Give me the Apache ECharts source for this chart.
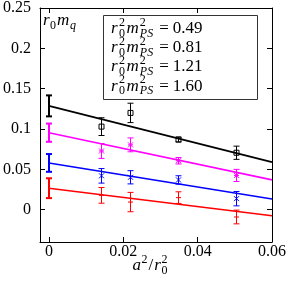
<!DOCTYPE html>
<html><head><meta charset="utf-8">
<script src="https://cdn.jsdelivr.net/npm/echarts@6/dist/echarts.min.js"></script>
<style>html,body{margin:0;padding:0;background:#fff}#c{width:289px;height:286px}</style>
</head><body>
<div id="c"></div>
<script>
// ---- data ----
const aSq = [0.0141, 0.0219, 0.0347, 0.0504];
const mpsLabels = ['0.49', '0.81', '1.21', '1.60'];
const mqRed = [0.0178, 0.0095, 0.0150, -0.0090];
const errRed = [0.0097, 0.0120, 0.0072, 0.0085];
const mqBlue = [0.0420, 0.0402, 0.0369, 0.0137];
const errBlue = [0.0090, 0.0082, 0.0052, 0.0089];
const mqMagenta = [0.0728, 0.0804, 0.0607, 0.0425];
const errMagenta = [0.0092, 0.0086, 0.0040, 0.0075];
const mqBlack = [0.1030, 0.1200, 0.0870, 0.0706];
const errBlack = [0.0110, 0.0120, 0.0030, 0.0082];
const extrap = [0.0267, 0.0580, 0.0955, 0.1287];
const extrapErr = [0.0123, 0.0110, 0.0113, 0.0130];
const fitRange = [0, 0.06];
const fitEnd = [-0.0074, 0.0132, 0.0370, 0.0590];
const xTicks = [0, 0.02, 0.04, 0.06];
const yTicks = [0, 0.05, 0.1, 0.15, 0.2, 0.25];
const xLabels = ['0', '0.02', '0.04', '0.06'];
const yLabels = ['0', '0.05', '0.1', '0.15', '0.2', '0.25'];

const colors = ['#ff0000', '#0000ff', '#ff00ff', '#000000'];
const markers = ['plus', 'cross', 'star', 'square'];
const mqSets = [mqRed, mqBlue, mqMagenta, mqBlack];
const errSets = [errRed, errBlue, errMagenta, errBlack];

const SERIF = 'serif';

function markerShapes(kind, cx, cy, color, r) {
  const st = {stroke: color, lineWidth: 1, fill: 'none'};
  const L = (x1, y1, x2, y2) => ({type: 'line', shape: {x1, y1, x2, y2}, style: st});
  if (kind === 'plus') return [L(cx - r, cy, cx + r, cy), L(cx, cy - r, cx, cy + r)];
  if (kind === 'cross') return [L(cx - r, cy - r, cx + r, cy + r), L(cx - r, cy + r, cx + r, cy - r)];
  if (kind === 'star') return [L(cx - r, cy, cx + r, cy), L(cx, cy - r, cx, cy + r),
    L(cx - r, cy - r, cx + r, cy + r), L(cx - r, cy + r, cx + r, cy - r)];
  return [{type: 'rect', shape: {x: cx - r, y: cy - r, width: 2 * r, height: 2 * r}, style: st}];
}

function errRenderer(color, marker, thick, opacity) {
  return function (params, api) {
    const x = api.value(0), y = api.value(1), e = api.value(2);
    const p = api.coord([x, y]);
    const pt = api.coord([x, y + e]);
    const pb = api.coord([x, y - e]);
    const cw = 3;
    const st = {stroke: color, lineWidth: thick ? 2 : 1};
    const X = Math.round(p[0]) + (thick ? 0 : 0.5);
    const children = [
      {type: 'line', shape: {x1: X, y1: pt[1], x2: X, y2: pb[1]}, style: st},
      {type: 'line', shape: {x1: X - cw, y1: pt[1], x2: X + cw, y2: pt[1]}, style: st},
      {type: 'line', shape: {x1: X - cw, y1: pb[1], x2: X + cw, y2: pb[1]}, style: st}
    ];
    if (marker) children.push(...markerShapes(marker, X, p[1], color, 2.5));
    return {type: 'group', children, style: {opacity}};
  };
}

// ---- math text helpers (Times-metric advance widths, em units) ----
const ADV = {'0': .5, '1': .5, '2': .5, '4': .5, '6': .5, '8': .5, '9': .5, '.': .25, '=': .564, '/': .278, ' ': .25,
  'r': .389, 'm': .722, 'P': .611, 'S': .5, 'a': .5, 'q': .5};
function tw(t, size) { let w = 0; for (const c of t) w += (ADV[c] || .5); return w * size; }
function mathText(parts, x, y, align, big, small) {
  const widths = parts.map(p => p.gap !== undefined ? p.gap : (p.t !== undefined ? tw(p.t, big)
    : Math.max(p.sup ? tw(p.sup, small) : 0, p.sub ? tw(p.sub, small) : 0)));
  const total = widths.reduce((a, b) => a + b, 0);
  let cx = align === 'right' ? x - total : (align === 'center' ? x - total / 2 : x);
  const els = [];
  const mk = (text, px, py, size, it) => ({type: 'text', x: px, y: py, style: {text,
    fontFamily: SERIF, fontSize: size, fontStyle: it ? 'italic' : 'normal', fill: '#000', textAlign: 'left', textVerticalAlign: 'middle'}});
  parts.forEach((p, i) => {
    if (p.gap !== undefined) { /* spacing */ }
    else if (p.t !== undefined) els.push(mk(p.t, cx, y, big, p.it));
    else {
      if (p.sup) els.push(mk(p.sup, cx, y - big * 0.36, small, p.supIt));
      if (p.sub) els.push(mk(p.sub, cx, y + big * 0.3, small, p.subIt));
    }
    cx += widths[i];
  });
  return els;
}

const series = [];
for (let s = 0; s < 4; s++) {
  series.push({
    type: 'line', name: 'fit' + s, silent: true, symbol: 'none',
    data: [[fitRange[0], extrap[s]], [fitRange[1], fitEnd[s]]],
    lineStyle: {color: colors[s], width: 1.6}, z: 3
  });
  series.push({
    type: 'custom', name: 'extrap' + s, silent: true,
    renderItem: errRenderer(colors[s], null, true, 1),
    data: [[0, extrap[s], extrapErr[s]]], z: 4
  });
  series.push({
    type: 'custom', name: 'data' + s, silent: true,
    renderItem: errRenderer(colors[s], markers[s], false, 0.65),
    data: aSq.map((x, i) => [x, mqSets[s][i], errSets[s][i]]), z: 5
  });
}

const graphic = [];
graphic.push(...mathText([{t: 'r', it: true}, {gap: 0.5}, {sub: '0'}, {gap: 1}, {t: 'm', it: true}, {gap: 0.5}, {sub: 'q', subIt: true}], 43, 21, 'left', 17, 12));
graphic.push(...mathText([{t: 'a', it: true}, {gap: 0.5}, {sup: '2'}, {gap: 1}, {t: '/'}, {gap: 1}, {t: 'r', it: true}, {gap: 0.5}, {sup: '2', sub: '0'}], 150, 266, 'center', 17, 12));

graphic.push({type: 'rect', shape: {x: 103.5, y: 15.5, width: 154, height: 84}, style: {fill: '#fff', stroke: '#333', lineWidth: 1}, z: 10});
const rowY = [28.5, 47.7, 66.9, 86.1];
for (let s = 0; s < 4; s++) {
  const els = mathText([{t: 'r', it: true}, {gap: 1.5}, {sup: '2', sub: '0'}, {gap: 1.5}, {t: 'm', it: true}, {gap: 1},
    {sup: '2', sub: 'PS', subIt: true}, {gap: 6}, {t: '='}, {gap: 4}, {t: mpsLabels[s]}], 202.5, rowY[s], 'right', 17, 12);
  els.forEach(e => { e.z = 11; graphic.push(e); });
  const st = {stroke: colors[s], lineWidth: 1};
  const yy = Math.round(rowY[s]) + 0.5;
  const lg = [
    {type: 'line', shape: {x1: 210, y1: yy, x2: 249, y2: yy}, style: st},
    {type: 'line', shape: {x1: 210.5, y1: yy - 3, x2: 210.5, y2: yy + 3}, style: st},
    {type: 'line', shape: {x1: 248.5, y1: yy - 3, x2: 248.5, y2: yy + 3}, style: st},
    ...markerShapes(markers[s], 229.5, yy, colors[s], 2.5)
  ];
  graphic.push({type: 'group', children: lg, z: 11, style: {opacity: 0.65}});
}

const lab = (arr, ticks) => v => arr[ticks.findIndex(t => Math.abs(t - v) < 1e-9)] || '';
const option = {
  animation: false,
  grid: {left: 36, right: 16, top: 6, bottom: 44, containLabel: false},
  xAxis: [
    {type: 'value', min: -0.0024, max: 0.06, position: 'bottom',
      axisLine: {show: true, onZero: false, lineStyle: {color: '#000'}}, splitLine: {show: false},
      axisTick: {inside: true, length: 5, customValues: xTicks, lineStyle: {color: '#000'}},
      axisLabel: {customValues: xTicks, formatter: lab(xLabels, xTicks), fontFamily: SERIF, fontSize: 16, color: '#000', margin: 2}},
    {type: 'value', min: -0.0024, max: 0.06, position: 'top',
      axisLine: {show: true, onZero: false, lineStyle: {color: '#000'}}, splitLine: {show: false},
      axisTick: {inside: true, length: 5, customValues: xTicks, lineStyle: {color: '#000'}},
      axisLabel: {show: false}}
  ],
  yAxis: [
    {type: 'value', min: -0.04, max: 0.25, position: 'left',
      axisLine: {show: true, onZero: false, lineStyle: {color: '#000'}}, splitLine: {show: false},
      axisTick: {inside: true, length: 5, customValues: yTicks, lineStyle: {color: '#000'}},
      axisLabel: {customValues: yTicks, formatter: lab(yLabels, yTicks), fontFamily: SERIF, fontSize: 16, color: '#000', margin: 9}},
    {type: 'value', min: -0.04, max: 0.25, position: 'right',
      axisLine: {show: true, onZero: false, lineStyle: {color: '#000'}}, splitLine: {show: false},
      axisTick: {inside: true, length: 5, customValues: yTicks, lineStyle: {color: '#000'}},
      axisLabel: {show: false}}
  ],
  series,
  graphic
};

const chart = echarts.init(document.getElementById('c'));
chart.setOption(option);
</script>
</body></html>
